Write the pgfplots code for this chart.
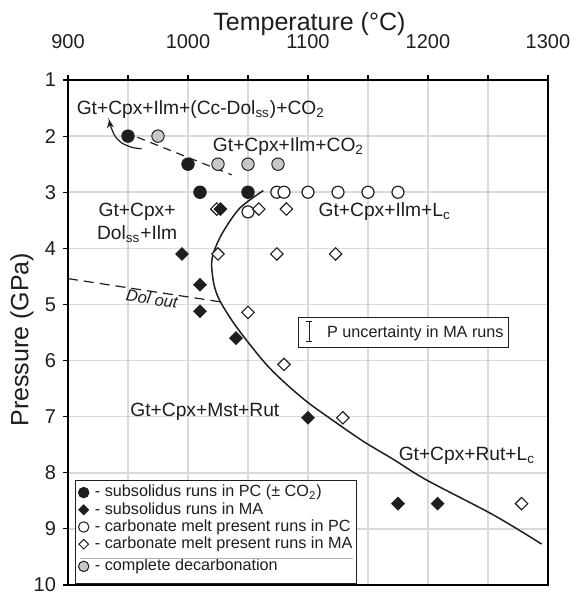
\documentclass[border=0pt]{standalone}
\usepackage{fontspec}
\setmainfont{Liberation Sans}
\usepackage{pgfplots}
\pgfplotsset{compat=1.18}
\usetikzlibrary{arrows.meta}
\definecolor{gridgray}{RGB}{218,218,218}
\definecolor{decgray}{RGB}{200,200,200}
\definecolor{ink}{RGB}{30,30,30}
\newcommand{\lbl}{\fontsize{9.6}{11.5}\selectfont}
\begin{document}
\begin{tikzpicture}
\useasboundingbox (-34pt,-5pt) rectangle (251.5pt,292.5pt);
\begin{axis}[
  at={(0pt,0pt)}, anchor=south west,
  scale only axis, width=240pt, height=252.5pt,
  xmin=900, xmax=1300, ymin=1, ymax=10, y dir=reverse,
  clip=false, unbounded coords=jump,
  xtick={900,1000,...,1300}, minor xtick={950,1050,1150,1250},
  ytick={1,...,10},
  xtick pos=upper, ytick pos=left, xticklabel pos=upper,
  tick align=outside, major tick length=2.5pt, minor tick length=2.5pt,
  tick style={draw=black, line width=0.6pt},
  axis line style={draw=black, line width=1.4pt},
  grid=both, grid style={draw=gridgray, line width=0.8pt},
  minor grid style={draw=gridgray, line width=0.8pt},
  /pgf/number format/assume math mode=true,
  /pgf/number format/1000 sep={},
  ticklabel style={font=\fontsize{10}{12}\selectfont, text=ink},
  xticklabel style={anchor=base, yshift=13.2pt},
  xlabel={Temperature (°C)},
  ylabel={Pressure (GPa)},
  xlabel style={at={(axis description cs:0.503,1.099)}, anchor=base, font=\fontsize{12.5}{14}\selectfont, text=ink},
  ylabel style={at={(axis description cs:-0.0958,0.4857)}, anchor=center, font=\fontsize{12.5}{14}\selectfont, text=ink},
  legend style={at={(axis description cs:0.0146,0.0026)}, anchor=south west,
    draw=ink, line width=0.5pt, fill=white,
    font=\fontsize{8.1}{9.7}\selectfont, text=ink,
    inner xsep=1.5pt, inner ysep=1.6pt, row sep=0pt, column sep=2.5pt,
    nodes={inner sep=0.5pt, text height=6pt, text depth=1.6pt}},
  legend cell align=left,
  legend image code/.code={\draw[mark repeat=2,mark phase=2] plot coordinates {(0pt,0pt)(3.5pt,0pt)(7pt,0pt)};},
]
% phase boundaries
\addplot[draw=ink, line width=0.75pt, smooth, forget plot] coordinates {
 (1062.8,2.97)(1043.3,3.28)(1029.4,3.70)(1021.7,4.05)(1019.7,4.29)(1021.7,4.65)
 (1026.7,4.94)(1040.0,5.39)(1062.8,6.01)(1079.4,6.37)(1098.9,6.73)(1118.3,7.03)
 (1146.1,7.44)(1171.1,7.76)(1198.9,8.13)(1254.4,8.75)(1294.7,9.27)};
\addplot[draw=ink, line width=0.6pt, dash pattern=on 5pt off 3pt, forget plot] coordinates {(900,4.54)(1029,4.96)};
\addplot[draw=ink, line width=0.6pt, dash pattern=on 4pt off 3pt, forget plot] coordinates {(957.8,2.02)(1036.4,2.69)};
\addplot[draw=ink, line width=0.6pt, smooth, -{Stealth[length=4pt,width=3.5pt]}, forget plot] coordinates {
 (961.4,2.225)(953.1,2.20)(944.7,2.12)(939.2,2.00)(935.6,1.825)(934.4,1.71)};
% data
\addplot[only marks, mark=*, mark size=3.1pt, mark options={fill=decgray, draw=ink, line width=0.5pt}, forget plot] coordinates {
 (975,2.0)(1025,2.5)(1050,2.5)(1075,2.5)};
\addplot[only marks, mark=*, mark size=3.1pt, mark options={fill=ink, draw=ink, line width=0.5pt}, forget plot] coordinates {
 (950,2.0)(1000,2.5)(1010,3.0)(1050,3.0)};
\addplot[only marks, mark=*, mark size=3pt, mark options={fill=white, draw=ink, line width=0.6pt}, forget plot] coordinates {
 (1074,3.0)(1080,3.0)(1100,3.0)(1125,3.0)(1150,3.0)(1175,3.0)(1050,3.35)};
\addplot[only marks, mark=square*, mark size=2.2pt, mark options={rotate=45, fill=white, draw=ink, line width=0.55pt}, forget plot] coordinates {
 (1024,3.3)(1059,3.3)(1082,3.3)(1025,4.1)(1074,4.1)(1123,4.1)(1050,5.14)(1080,6.07)(1129,7.02)(1278,8.55)};
\addplot[only marks, mark=square*, mark size=2.2pt, mark options={rotate=45, fill=ink, draw=ink, line width=0.5pt}, forget plot] coordinates {
 (1027,3.3)(995,4.1)(1010,4.65)(1010,5.12)(1040,5.6)(1100,7.02)(1175,8.55)(1208,8.55)};
% uncertainty box
\draw[draw=ink, line width=0.5pt, fill=white] (axis cs:1091.9,5.23) rectangle (axis cs:1266.9,5.765);
\draw[draw=ink, line width=0.6pt] (axis cs:1101,5.30) -- (axis cs:1101,5.66)
  (axis cs:1098.5,5.30) -- (axis cs:1103.5,5.30) (axis cs:1098.5,5.66) -- (axis cs:1103.5,5.66);
\node[anchor=base west, inner sep=0, font=\fontsize{8.1}{9.7}\selectfont, text=ink] at (axis cs:1115.6,5.59) {P uncertainty in MA runs};
% labels
\node[anchor=base west, inner sep=0, font=\lbl, text=ink] at (axis cs:907,1.61) {Gt+Cpx+Ilm+(Cc-Dol\textsubscript{ss})+CO\textsubscript{2}};
\node[anchor=base west, inner sep=0, font=\lbl, text=ink] at (axis cs:1020.5,2.27) {Gt+Cpx+Ilm+CO\textsubscript{2}};
\node[anchor=base, inner sep=0, font=\lbl, text=ink] at (axis cs:957.6,3.43) {Gt+Cpx+};
\node[anchor=base, inner sep=0, font=\lbl, text=ink] at (axis cs:957.6,3.85) {Dol\textsubscript{ss}+Ilm};
\node[anchor=base west, inner sep=0, font=\lbl, text=ink] at (axis cs:1108.6,3.43) {Gt+Cpx+Ilm+L\textsubscript{c}};
\node[anchor=base west, inner sep=0, font=\lbl, text=ink] at (axis cs:951.7,7.0) {Gt+Cpx+Mst+Rut};
\node[anchor=base west, inner sep=0, font=\lbl, text=ink] at (axis cs:1175.3,7.78) {Gt+Cpx+Rut+L\textsubscript{c}};
\node[anchor=center, inner sep=0, rotate=-9, font=\fontsize{8.2}{9.8}\selectfont\itshape, text=ink] at (axis cs:970,4.90) {Dol out};
\coordinate (sepL) at (axis cs:910,9.53);
\coordinate (sepR) at (axis cs:1137.5,9.53);
% frame and tick marks as pgfplots line plots
\addplot[draw=black, line width=1.4pt, line join=miter, forget plot] coordinates {(900,1)(1300,1)(1300,10)(900,10)(900,1)};
\addplot[draw=black, line width=0.6pt, forget plot] coordinates {
 (900,1)(900,0.911) (900,nan) (950,1)(950,0.911) (950,nan) (1000,1)(1000,0.911) (1000,nan)
 (1050,1)(1050,0.911) (1050,nan) (1100,1)(1100,0.911) (1100,nan) (1150,1)(1150,0.911) (1150,nan)
 (1200,1)(1200,0.911) (1200,nan) (1250,1)(1250,0.911) (1250,nan) (1300,1)(1300,0.911)};
\addplot[draw=black, line width=0.6pt, forget plot] coordinates {
 (900,1)(895.8,1) (nan,1) (900,2)(895.8,2) (nan,2) (900,3)(895.8,3) (nan,3) (900,4)(895.8,4) (nan,4)
 (900,5)(895.8,5) (nan,5) (900,6)(895.8,6) (nan,6) (900,7)(895.8,7) (nan,7) (900,8)(895.8,8) (nan,8)
 (900,9)(895.8,9) (nan,9) (900,10)(895.8,10)};
% legend
\addlegendimage{only marks, mark=*, mark size=2.6pt, mark options={fill=ink, draw=ink, line width=0.5pt}}
\addlegendentry{- subsolidus runs in PC (± CO\textsubscript{2})}
\addlegendimage{only marks, mark=square*, mark size=1.7pt, mark options={rotate=45, fill=ink, draw=ink, line width=0.5pt}}
\addlegendentry{- subsolidus runs in MA}
\addlegendimage{only marks, mark=*, mark size=2.6pt, mark options={fill=white, draw=ink, line width=0.5pt}}
\addlegendentry{- carbonate melt present runs in PC}
\addlegendimage{only marks, mark=square*, mark size=1.7pt, mark options={rotate=45, fill=white, draw=ink, line width=0.5pt}}
\addlegendentry{- carbonate melt present runs in MA}
\addlegendimage{only marks, mark=*, mark size=2.6pt, mark options={fill=decgray, draw=ink, line width=0.5pt}}
\addlegendentry[inner ysep=3pt]{- complete decarbonation}
\end{axis}
\draw[draw=gray!60, line width=0.5pt] (sepL) -- (sepR);
\end{tikzpicture}
\end{document}
